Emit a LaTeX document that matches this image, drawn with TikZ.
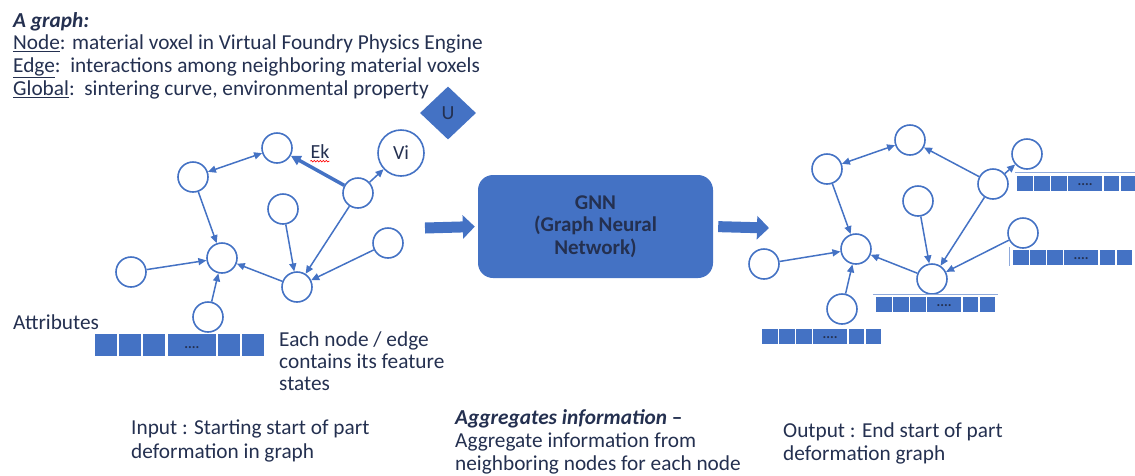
\documentclass[tikz,border=0pt]{standalone}
\usepackage{fontspec}
\setmainfont{Carlito}
\usetikzlibrary{arrows.meta,positioning,shapes.geometric,decorations.pathmorphing}
\definecolor{voxblue}{HTML}{4472C4}
\definecolor{inkblue}{HTML}{243050}
\definecolor{barline}{HTML}{8FAADC}

% one row of feature cells, the wide one holds the dots
\newcommand{\featbar}[5]{% name, x, y, cell width, cell height
  \foreach \o/\s in {0/1,1.1/1,2.2/1,3.3/2.2,5.6/1,6.7/1}
    \fill[voxblue] ({#2+\o*#4},#3) rectangle ++({\s*#4},#5);
  \node[dots] (#1) at ({#2+4.4*#4},{#3+0.6*#5}) {....};
}

\begin{document}
\begin{tikzpicture}[x=1pt, y=-1pt,
    >={Triangle[length=8pt,width=7pt]},
    voxel/.style={circle, draw=voxblue, line width=1.6pt, fill=white,
      minimum size=30pt, inner sep=0pt},
    edge/.style={draw=voxblue, line width=1.5pt},
    txt/.style={text=inkblue, font=\fontsize{21.3}{22.7}\selectfont,
      align=left, inner sep=0pt},
    small txt/.style={txt, font=\fontsize{21.3}{23.7}\selectfont},
    dots/.style={text=inkblue, font=\bfseries\fontsize{14}{14}\selectfont, inner sep=0pt},
    blockarrow/.style={voxblue, line width=11pt,
      -{Triangle[length=12pt,width=23pt]}}]
  \useasboundingbox (0,0) rectangle (1135,475);
  %
  \node[txt, anchor=north west] (legend) at (13,12)
    {\textbf{\textit{A graph:}}\\
     \underline{Node}: material voxel in Virtual Foundry Physics Engine\\
     \underline{Edge}:\ \ interactions among neighboring material voxels\\
     \underline{Global}:\ \ sintering curve, environmental property};
  \node[diamond, fill=voxblue, minimum width=56pt, minimum height=53pt,
    inner sep=0pt, text=inkblue, font=\fontsize{20}{20}\selectfont] (glob) at (448,113) {U};
  %
  % input graph
  \node[voxel] (lA) at (277,148) {};
  \node[voxel] (lB) at (193,177) {};
  \node[voxel, minimum size=46pt, text=inkblue, font=\fontsize{20}{20}\selectfont] (lV) at (401,153) {Vi};
  \node[voxel] (lC) at (358,193) {};
  \node[voxel] (lD) at (283,209) {};
  \node[voxel] (lE) at (388,243) {};
  \node[voxel] (lF) at (222,258) {};
  \node[voxel] (lG) at (297,287) {};
  \node[voxel] (lH) at (131,272) {};
  \node[voxel] (lI) at (208,317) {};
  \draw[edge,<->] (lB) -- (lA);
  \draw[edge, line width=3.5pt, -{Triangle[length=10pt,width=10pt]}] (lC) -- (lA);
  \draw[edge,->] (lC) -- (lV);
  \draw[edge,->] (lB) -- (lF);
  \draw[edge,->] (lD) -- (lG);
  \draw[edge,->] (lC) -- (lG);
  \draw[edge,->] (lE) -- (lG);
  \draw[edge,->] (lG) -- (lF);
  \draw[edge,->] (lH) -- (lF);
  \draw[edge,->] (lI) -- (lF);
  \node[txt, font=\fontsize{20}{20}\selectfont] (ek) at (320,152) {Ek};
  \draw[red, line width=0.6pt, decorate,
    decoration={snake, amplitude=0.8pt, segment length=3pt}]
    ([yshift=-2pt]ek.south west) -- ([yshift=-2pt]ek.south east);
  %
  \node[txt, anchor=west] (attr) at (13,322) {Attributes};
  \featbar{attrL}{95}{334}{22}{22}
  \node[txt, anchor=north west, font=\fontsize{21.3}{22}\selectfont] (state) at (279,332)
    {Each node / edge\\contains its feature\\states};
  %
  % the network
  \node[rectangle, rounded corners=15pt, fill=voxblue, minimum width=235pt,
    minimum height=103pt, text=inkblue, align=center,
    font=\bfseries\fontsize{21}{22.5}\selectfont] (gnn) at (595.5,226.5)
    {GNN\\(Graph Neural\\Network)};
  \coordinate (inTail) at (425,228);
  \coordinate (outHead) at (769,228);
  \draw[blockarrow, shorten >=3pt] (inTail) -- (gnn.west);
  \draw[blockarrow, shorten <=5pt] (gnn.east) -- (outHead);
  %
  % output graph
  \node[voxel] (rA) at (910,140) {};
  \node[voxel] (rB) at (827,169) {};
  \node[voxel] (rV) at (1027,154) {};
  \node[voxel] (rC) at (993,184) {};
  \node[voxel] (rD) at (918,201) {};
  \node[voxel] (rE) at (1023,233) {};
  \node[voxel] (rF) at (856,249) {};
  \node[voxel] (rG) at (932,279) {};
  \node[voxel] (rH) at (764,264) {};
  \node[voxel] (rI) at (842,309) {};
  \draw[edge,<->] (rB) -- (rA);
  \draw[edge,->] (rC) -- (rA);
  \draw[edge,->] (rC) -- (rV);
  \draw[edge,->] (rB) -- (rF);
  \draw[edge,->] (rD) -- (rG);
  \draw[edge,->] (rC) -- (rG);
  \draw[edge,->] (rE) -- (rG);
  \draw[edge,->] (rG) -- (rF);
  \draw[edge,->] (rH) -- (rF);
  \draw[edge,->] (rI) -- (rF);
  %
  \draw[barline, line width=1pt] (1015,172) -- (1135,172);
  \featbar{attrV}{1017}{176}{15.5}{15}
  \draw[barline, line width=1pt] (1009,247) -- (1009,266);
  \featbar{attrE}{1013}{250}{15.5}{15}
  \draw[barline, line width=1pt] (873,294) -- (998,294);
  \featbar{attrG}{876}{297}{15.5}{15}
  \featbar{attrI}{762}{329}{15.5}{15}
  %
  % captions
  \node[small txt, anchor=north west] (input) at (131,420)
    {Input : Starting start of part\\deformation in graph};
  \node[small txt, anchor=north west, font=\fontsize{21.3}{23}\selectfont] (aggr) at (455,409)
    {\textbf{\textit{Aggregates information} –}\\Aggregate information from\\neighboring nodes for each node};
  \node[small txt, anchor=north west] (output) at (783,422)
    {Output : End start of part\\deformation graph};
\end{tikzpicture}
\end{document}
